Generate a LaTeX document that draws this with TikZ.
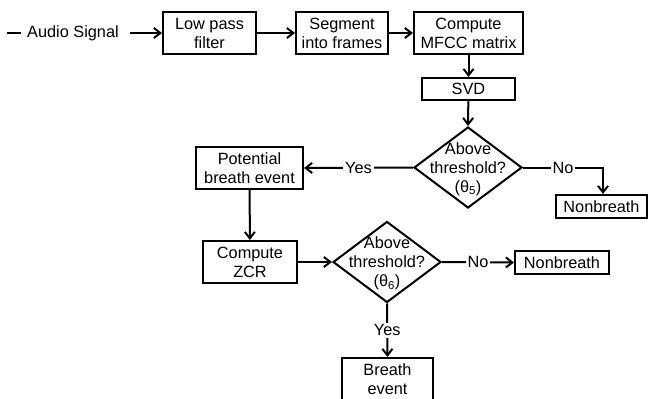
\documentclass[tikz,border=0pt]{standalone}
\usepackage{fontspec}
\setmainfont{Liberation Sans}
\usetikzlibrary{shapes.geometric,arrows.meta}
\begin{document}
\begin{tikzpicture}[x=1pt,y=-1pt,
  every node/.style={font=\fontsize{16.3}{19}\selectfont},
  box/.style={draw,line width=2pt,minimum width=#1,inner sep=0pt,align=center},
  dia/.style={draw,diamond,line width=2pt,minimum width=108pt,minimum height=81pt,inner sep=0pt},
  lab/.style={fill=white,inner sep=2pt},
  conn/.style={line width=2pt,-{Straight Barb[length=6.5pt,width=10pt,line width=2pt]}},
  plain/.style={line width=2pt}]
\useasboundingbox (0,0) rectangle (649,399);
% input
\coordinate (d0) at (7,33);
\coordinate (d1) at (21,33);
\node[inner sep=0pt,anchor=west] (audio) at (27,33) {Audio Signal};
\coordinate (as) at (130,33);
% boxes
\node[box=93pt,minimum height=42pt] (lpf) at (209.5,33) {Low pass\\filter};
\node[box=92pt,minimum height=42pt] (seg) at (342,33) {Segment\\into frames};
\node[box=109pt,minimum height=42pt] (mfcc) at (468.5,33) {Compute\\MFCC matrix};
\node[box=93pt,minimum height=22pt] (svd) at (468.5,89) {SVD};
\node[dia] (dA) at (468,167.5) {};
\node[align=center,inner sep=0pt] (tA) at (468,169) {Above\\threshold?\\(θ\textsubscript{5})};
\node[box=107pt,minimum height=42pt] (pot) at (249.5,168) {Potential\\breath event};
\node[box=91pt,minimum height=23pt] (nb1) at (601.5,206.5) {Nonbreath};
\node[box=94pt,minimum height=42pt] (zcr) at (250,262) {Compute\\ZCR};
\node[dia] (dB) at (387,262) {};
\node[align=center,inner sep=0pt] (tB) at (387,263.5) {Above\\threshold?\\(θ\textsubscript{6})};
\node[box=94pt,minimum height=23pt] (nb2) at (562,262.5) {Nonbreath};
\node[box=91pt,minimum height=42pt] (br) at (387.5,379) {Breath\\event};
% connectors
\draw[plain] (d0) -- (d1);
\draw[conn] (as) -- (lpf.west);
\draw[conn] (lpf) -- (seg);
\draw[conn] (seg) -- (mfcc);
\draw[conn] (mfcc) -- (svd);
\draw[conn] (svd) -- (dA.north);
\draw[conn] (dA.west) -- node[lab] (yA) {Yes} (pot.east);
\coordinate (cA) at (603,167.5);
\draw[conn] (dA.east) -- node[lab,pos=0.5] (nA) {No} (cA) -- (cA |- nb1.north);
\draw[conn] (pot) -- (zcr);
\draw[conn] (zcr) -- (dB.west);
\draw[conn] (dB.east) -- node[lab] (nB) {No} (nb2.west);
\draw[conn] (dB.south) -- node[lab] (yB) {Yes} (br.north);
\end{tikzpicture}
\end{document}
